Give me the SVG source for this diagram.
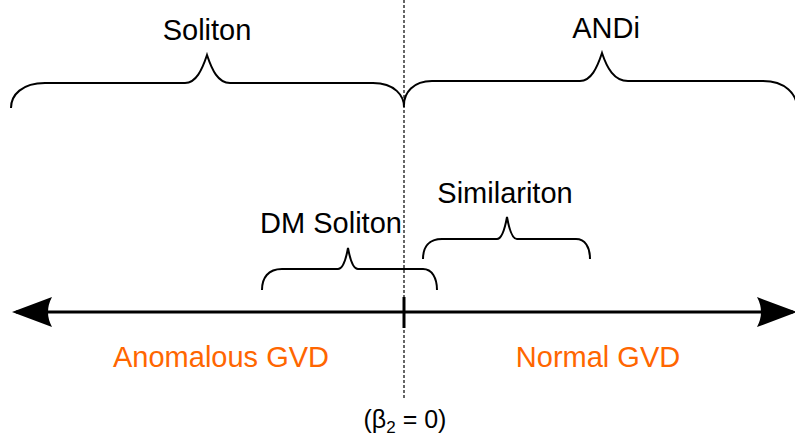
<svg xmlns="http://www.w3.org/2000/svg" width="795" height="441" viewBox="0 0 795 441">
  <style>
    .lbl { font-family: "Liberation Sans", Arial, sans-serif; font-size: 29px; fill: #000; text-anchor: middle; }
    .gvd { fill: #FF6600; }
    .brace { fill: none; stroke: #000; stroke-width: 2; }
  </style>
  <defs>
    <marker id="ah" viewBox="0 0 40 32" refX="36" refY="16" markerWidth="40" markerHeight="32" markerUnits="userSpaceOnUse" orient="auto-start-reverse">
      <path d="M0 1 L40 16 L0 31 Q8 16 0 1 Z" fill="#000"/>
    </marker>
  </defs>
  <g id="connectors">
    <line x1="404" y1="0" x2="404" y2="398" stroke="#000" stroke-width="1.2" stroke-dasharray="3 2"/>
    <line x1="16" y1="312" x2="793" y2="312" stroke="#000" stroke-width="3" marker-start="url(#ah)" marker-end="url(#ah)"/>
    <line x1="404" y1="297" x2="404" y2="328" stroke="#000" stroke-width="3"/>
  </g>
  <g id="soliton">
    <path class="brace" d="M11 108 C11 95 22 83 45 83 L185 83 C196 83 202 70 207 55 C212 70 218 83 230 83 L373 83 C395 83 404 96 404 107"/>
    <text class="lbl" x="207" y="40">Soliton</text>
  </g>
  <g id="andi">
    <path class="brace" d="M404 105 C404 93 413 81 432 81 L580 81 C591 81 597 68 602 53 C607 68 614 81 628 81 L763 81 C785 81 797 94 797 108"/>
    <text class="lbl" x="606" y="38">ANDi</text>
  </g>
  <g id="dm-soliton">
    <path class="brace" d="M262 290 C262 278 268 269 282 269 L338 269 C343 269 346 259 348 248 C350 259 353 269 358 269 L423 269 C432 269 437 278 437 290"/>
    <text class="lbl" x="331" y="233">DM Soliton</text>
  </g>
  <g id="similariton">
    <path class="brace" d="M423 259 C423 247 429 239 442 239 L497 239 C502 239 505 228 507 217 C509 228 512 239 517 239 L576 239 C585 239 590 247 590 259"/>
    <text class="lbl" x="505" y="203">Similariton</text>
  </g>
  <g id="anomalous">
    <text class="lbl gvd" x="221" y="367">Anomalous GVD</text>
  </g>
  <g id="normal">
    <text class="lbl gvd" x="598" y="367">Normal GVD</text>
  </g>
  <g id="beta">
    <text class="lbl" x="405" y="428" style="font-size:25px">(β<tspan font-size="17" dy="5">2</tspan><tspan dy="-5"> = 0)</tspan></text>
  </g>
</svg>
